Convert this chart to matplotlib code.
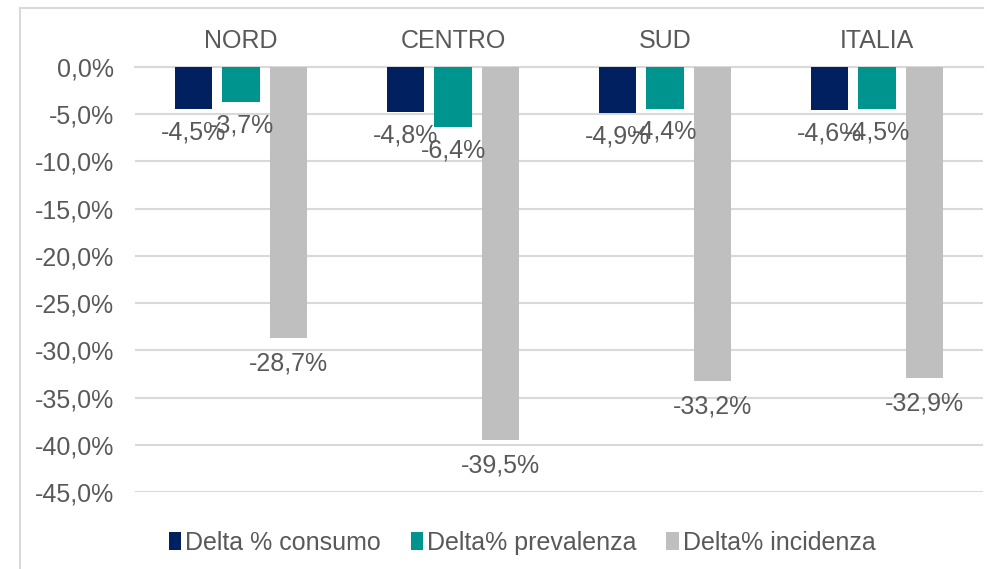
import numpy as np
import matplotlib.pyplot as plt
from matplotlib.lines import Line2D

plt.rcParams['font.family'] = ['Liberation Sans', 'DejaVu Sans']

regions = ['NORD', 'CENTRO', 'SUD', 'ITALIA']
series = ['Delta % consumo', 'Delta% prevalenza', 'Delta% incidenza']
consumo = [-4.5, -4.8, -4.9, -4.6]
prevalenza = [-3.7, -6.4, -4.4, -4.5]
incidenza = [-28.7, -39.5, -33.2, -32.9]
colors = ['#002060', '#00948F', '#BFBFBF']

text_col = '#595959'
grid_col = '#D9D9D9'

fig = plt.figure(figsize=(9.92, 5.69), dpi=100)
ax = fig.add_axes([135/992, 1-492/569, (983-135)/992, (492-67)/569])

x = np.arange(len(regions))
bw = 0.175
offs = [-0.222, 0.0, 0.222]
for h, vals in enumerate([consumo, prevalenza, incidenza]):
    bars = ax.bar(x + offs[h], vals, bw, color=colors[h], label=series[h], zorder=3)
    for b, v in zip(bars, vals):
        # small bars sit a little closer to their label
        dy = -8 if v > -10 else -10
        ax.annotate(f'{v:.1f}%'.replace('.', ','),
                    (b.get_x() + b.get_width()/2, v),
                    xytext=(0, dy), textcoords='offset points',
                    ha='center', va='top', fontsize=18, color=text_col, zorder=4)

ax.set_xlim(-0.5, 3.5)
ax.set_ylim(-45, 0)
ax.set_yticks(np.arange(-45, 1, 5))
ax.set_yticklabels([f'{t:.1f}%'.replace('.', ',') for t in np.arange(-45, 1, 5)])
ax.tick_params(axis='y', length=0, pad=15, labelsize=18, labelcolor=text_col)
ax.set_xticks([])
ax.grid(axis='y', color=grid_col, linewidth=1.5, zorder=0)
for s in ax.spines.values():
    s.set_visible(False)
ax.axhline(0, color=grid_col, linewidth=1.5, zorder=1, clip_on=False)

for i, r in enumerate(regions):
    ax.text(i, 1.06, r, transform=ax.get_xaxis_transform(),
            ha='center', va='center', fontsize=18, color=text_col)

leg = fig.legend(loc='center', bbox_to_anchor=(522/992, 1-543/569), ncol=3,
                 frameon=False, fontsize=18, handlelength=0.5, handleheight=0.75,
                 handletextpad=0.15, columnspacing=1.2, labelcolor=text_col)

# chart border
fig.add_artist(Line2D([20/992, 20/992], [0, 1-8/569], color=grid_col, lw=1.5))
fig.add_artist(Line2D([20/992, 983/992], [1-8/569, 1-8/569], color=grid_col, lw=1.5))

fig.savefig('out.png', dpi=100)
